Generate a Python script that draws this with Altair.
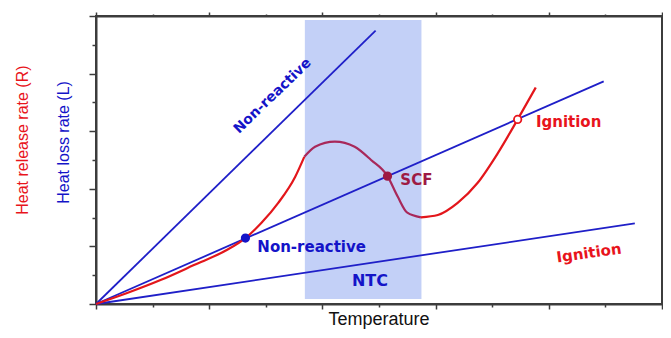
import altair as alt
import pandas as pd

# ---------------- data ----------------
# Heat-loss lines (all start at the origin)
loss_names = ["steep", "middle", "low"]
loss_end_x = [4.94, 8.97, 9.52]
loss_end_y = [9.49, 7.73, 2.80]

# Heat-release curve, three pieces
rel1_x = [0.0, 0.55, 1.14, 1.73, 2.31, 2.64, 2.92, 3.22, 3.52, 3.68]
rel1_y = [0.0, 0.38, 0.83, 1.35, 1.875, 2.29, 2.81, 3.51, 4.42, 5.11]
ntc_x = [3.68, 3.87, 4.22, 4.57, 4.86, 5.15, 5.33, 5.50, 5.74]
ntc_y = [5.11, 5.46, 5.64, 5.46, 5.00, 4.44, 3.73, 3.17, 3.01]
rel2_x = [5.74, 6.04, 6.39, 6.74, 7.10, 7.45, 7.77]
rel2_y = [3.01, 3.09, 3.51, 4.20, 5.24, 6.41, 7.52]

# NTC band
band_x = [3.69, 5.75]
band_y = [0.17, 9.86]

# Marked states
pt_names = ["Non-reactive", "SCF", "Ignition"]
pt_x = [2.64, 5.15, 7.45]
pt_y = [2.29, 4.44, 6.41]

# Annotations
lab_text = ["Non-reactive", "Non-reactive", "SCF", "Ignition", "Ignition", "NTC"]
lab_x = [3.12, 3.81, 5.66, 8.35, 8.71, 4.84]
lab_y = [7.22, 1.98, 4.31, 6.32, 1.77, 0.80]
lab_angle = [316, 0, 0, 0, 352, 0]
lab_color = ["#1414c8", "#1414c8", "#9e1a44", "#e8141c", "#e8141c", "#1414c8"]
lab_size = [14, 15, 15, 15, 15, 16]

ticks = list(range(11))

# ---------------- tables ----------------
loss_rows = []
for n, ex, ey in zip(loss_names, loss_end_x, loss_end_y):
    loss_rows.append({"line": n, "x": 0.0, "y": 0.0})
    loss_rows.append({"line": n, "x": ex, "y": ey})
loss_df = pd.DataFrame(loss_rows)

curve_rows = []
for seg, col, xs_, ys_ in [("a", "#e3161b", rel1_x, rel1_y),
                           ("b", "#a8285a", ntc_x, ntc_y),
                           ("c", "#e3161b", rel2_x, rel2_y)]:
    for xv, yv in zip(xs_, ys_):
        curve_rows.append({"seg": seg, "col": col, "x": xv, "y": yv})
curve_df = pd.DataFrame(curve_rows)

band_df = pd.DataFrame({"x0": [band_x[0]], "x1": [band_x[1]],
                        "y0": [band_y[0]], "y1": [band_y[1]]})
pt_df = pd.DataFrame({"name": pt_names, "x": pt_x, "y": pt_y})
lab_df = pd.DataFrame({"text": lab_text, "x": lab_x, "y": lab_y,
                       "angle": lab_angle, "color": lab_color, "size": lab_size})
ytitle_df = pd.DataFrame({"text": ["Heat release rate (R)", "Heat loss rate (L)"],
                          "x": [-1.29, -0.57], "y": [5.69, 5.61],
                          "color": ["#e8141c", "#1414c8"]})
xtitle_df = pd.DataFrame({"text": ["Temperature"], "x": [5.0], "y": [-0.73]})

# ---------------- scales / axes ----------------
xs = alt.Scale(domain=[0, 10], nice=False, zero=False)
ys = alt.Scale(domain=[0, 10], nice=False, zero=False)
AX = "#3c3c3c"

def axis(orient, major, minor):
    return alt.Axis(orient=orient, values=ticks, labels=False, title=None, grid=False,
                    domain=True, domainColor=AX, domainWidth=2,
                    tickColor=AX, tickWidth=1.5,
                    tickSize={"condition": {"test": "datum.value % 2 === 0", "value": major},
                              "value": minor})

band = alt.Chart(band_df).mark_rect(color="#c3d0f7").encode(
    x=alt.X("x0:Q", scale=xs, axis=axis("bottom", 5, 3)), x2="x1",
    y=alt.Y("y0:Q", scale=ys, axis=axis("left", 7, 4)), y2="y1")

loss = alt.Chart(loss_df).mark_line(color="#1f1fc8", strokeWidth=1.8).encode(
    x=alt.X("x:Q", scale=xs, axis=axis("top", 4, 2)),
    y=alt.Y("y:Q", scale=ys, axis=None),
    detail="line:N")

curve = alt.Chart(curve_df).mark_line(strokeWidth=2.2, interpolate="monotone").encode(
    x=alt.X("x:Q", scale=xs, axis=None),
    y=alt.Y("y:Q", scale=ys, axis=None),
    color=alt.Color("col:N", scale=None),
    detail="seg:N")

pts = alt.Chart(pt_df).mark_point(filled=True, size=55, opacity=1).encode(
    x=alt.X("x:Q", scale=xs, axis=None),
    y=alt.Y("y:Q", scale=ys, axis=None),
    fill=alt.Fill("name:N", scale=alt.Scale(domain=pt_names,
                                           range=["#1414c8", "#9e1a44", "#ffffff"]), legend=None),
    stroke=alt.Stroke("name:N", scale=alt.Scale(domain=pt_names,
                                               range=["#1414c8", "#9e1a44", "#e8141c"]), legend=None),
    strokeWidth=alt.value(1.8))

labels = alt.Chart(lab_df).mark_text(font="DejaVu Sans", fontWeight="bold",
                                     align="center", baseline="middle").encode(
    x=alt.X("x:Q", scale=xs, axis=None),
    y=alt.Y("y:Q", scale=ys, axis=None),
    text="text:N",
    angle=alt.Angle("angle:Q", scale=None),
    color=alt.Color("color:N", scale=None),
    size=alt.Size("size:Q", scale=None))

ytitles = alt.Chart(ytitle_df).mark_text(font="Liberation Sans", fontSize=16, angle=270,
                                         align="center", baseline="middle").encode(
    x=alt.X("x:Q", scale=xs, axis=None),
    y=alt.Y("y:Q", scale=ys, axis=None),
    text="text:N",
    color=alt.Color("color:N", scale=None))

xtitle = alt.Chart(xtitle_df).mark_text(font="Liberation Sans", fontSize=18, color="#111111",
                                        align="center", baseline="alphabetic").encode(
    x=alt.X("x:Q", scale=xs, axis=None),
    y=alt.Y("y:Q", scale=ys, axis=None),
    text="text:N")

chart = alt.layer(band, loss, curve, pts, labels, ytitles, xtitle).resolve_axis(
    x="independent", y="independent"
).properties(
    width=566, height=288,
    autosize=alt.AutoSizeParams(type="none"),
    padding={"left": 88, "top": 8, "right": 1, "bottom": 26},
    background="white",
).configure_view(stroke=AX, strokeWidth=2)

chart.save("out.html", embed_options={"renderer": "svg", "actions": False})
